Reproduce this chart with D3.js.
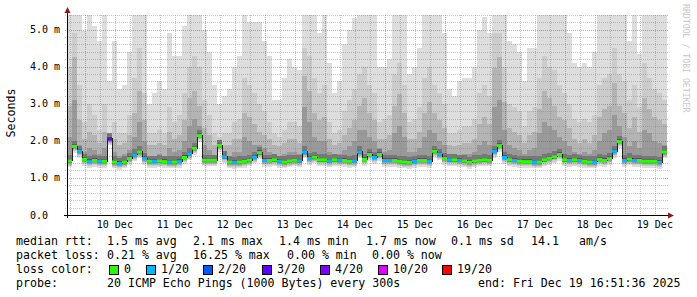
<!DOCTYPE html>
<html>
<head>
<meta charset="utf-8">
<script src="https://cdn.jsdelivr.net/npm/d3@7"></script>
<style>
  body { margin: 0; background: #fff; }
  text { font-family: "DejaVu Sans Mono", monospace; fill: #000; white-space: pre; }
</style>
</head>
<body>
<script>
/********************** data **********************/
// one value per 2h step, Dec 9 16:51 -> Dec 19 16:51
const dayLabels = ["10 Dec","11 Dec","12 Dec","13 Dec","14 Dec","15 Dec","16 Dec","17 Dec","18 Dec","19 Dec"];
const yTickValues = [0, 1, 2, 3, 4, 5];
const yTickLabels = ["0.0", "1.0 m", "2.0 m", "3.0 m", "4.0 m", "5.0 m"];

// median rtt (ms)
const median = [
  1.46,1.85,1.72,1.50,1.44,1.47,1.45,1.45,2.05,1.43,
  1.39,1.43,1.52,1.62,1.70,1.52,1.45,1.45,1.46,1.44,
  1.43,1.43,1.44,1.55,1.65,1.80,2.14,1.48,1.48,1.48,
  1.88,1.57,1.43,1.42,1.43,1.45,1.48,1.56,1.68,1.47,
  1.47,1.49,1.45,1.43,1.46,1.48,1.46,1.70,1.52,1.56,
  1.49,1.49,1.46,1.49,1.48,1.47,1.45,1.46,1.70,1.50,
  1.63,1.55,1.63,1.47,1.47,1.47,1.45,1.43,1.42,1.45,
  1.47,1.47,1.45,1.72,1.64,1.52,1.49,1.49,1.47,1.46,
  1.42,1.46,1.48,1.49,1.48,1.72,1.87,1.55,1.49,1.47,
  1.45,1.44,1.44,1.43,1.43,1.49,1.53,1.57,1.63,1.49,
  1.47,1.49,1.47,1.45,1.43,1.43,1.50,1.47,1.52,1.72,
  1.98,1.47,1.51,1.47,1.47,1.45,1.45,1.45,1.42,1.70
];
// lost pings out of 20
const lost = [
  0,0,1,0,1,0,1,0,3,0, 1,0,0,1,0,1,0,1,0,0, 1,0,1,0,1,0,0,0,0,0,
  0,1,0,1,0,0,0,1,0,1, 0,0,1,0,0,0,1,1,1,0, 0,0,1,0,1,0,0,1,1,0,
  0,1,0,1,1,0,0,0,0,1, 0,0,1,0,1,0,1,0,1,0, 0,0,0,0,0,1,0,1,0,1,
  0,0,0,1,0,0,0,0,0,0, 1,0,1,0,0,1,0,0,0,1, 0,1,0,1,0,0,0,0,1,0
];
// smoke: highest ping, and upper pings 18, 16, 14 (ms)
const pingMax = [
  5.4,5.4,5.4,4.95,5.4,5.1,4.7,5.4,3.6,4.7,
  3.4,3.5,4.4,5.4,5.4,5.4,3.0,3.3,3.6,3.4,
  4.9,4.3,4.3,5.1,5.4,5.4,5.4,5.0,4.4,3.5,
  3.0,3.2,3.4,4.0,4.3,5.4,5.2,5.2,5.2,4.7,
  4.3,3.1,3.1,3.7,4.2,4.0,3.9,5.4,5.4,5.4,
  4.9,5.4,4.1,3.3,3.6,4.6,5.0,5.3,5.4,5.4,
  5.4,5.4,4.0,4.0,4.2,5.4,5.4,5.4,3.8,4.0,
  4.5,5.4,5.4,5.4,5.4,4.9,3.4,3.2,3.6,3.7,
  3.7,4.0,5.0,5.35,4.9,5.4,5.4,5.4,4.7,4.6,
  4.4,3.6,4.5,4.5,5.4,5.4,5.4,5.4,5.4,5.4,
  4.9,4.1,4.0,4.1,4.0,4.4,5.4,5.4,5.4,5.4,
  5.4,5.4,4.7,5.4,4.35,5.4,5.4,5.4,5.4,5.4
];
const ping18 = [
  4.0,4.9,3.5,2.5,3.0,2.7,2.3,3.0,2.2,2.5,
  2.2,2.2,2.7,3.7,4.5,3.3,2.2,2.2,2.3,2.2,
  2.9,2.5,2.7,3.3,4.0,4.3,4.0,3.1,2.7,2.2,
  2.1,2.2,2.2,2.5,2.6,3.7,3.5,3.3,3.0,2.8,
  2.5,2.2,2.1,2.3,2.5,2.5,2.4,4.5,4.3,3.7,
  3.3,3.5,2.5,2.2,2.3,2.8,3.1,3.4,3.8,4.0,
  3.5,3.3,2.5,2.6,2.7,3.8,4.1,3.5,2.5,2.6,
  2.9,3.7,4.0,3.5,3.3,3.0,2.2,2.2,2.3,2.4,
  2.4,2.6,3.3,3.5,3.2,4.9,4.9,4.0,3.0,2.9,
  2.8,2.4,2.8,2.9,3.7,4.3,4.0,3.9,3.5,3.3,
  3.0,2.6,2.5,2.6,2.5,2.7,3.5,3.7,3.8,4.5,
  3.8,3.6,3.1,3.5,2.9,4.1,3.7,3.4,3.3,3.1
];
const ping16 = [
  2.95,4.25,2.55,2.05,2.25,2.15,1.95,2.25,1.95,2.05,
  1.9,1.95,2.15,2.75,3.35,2.55,1.9,1.9,1.95,1.9,
  2.25,2.05,2.15,2.55,3.15,3.35,2.95,2.35,2.15,1.9,
  1.85,1.9,1.9,2.05,2.05,2.75,2.65,2.45,2.25,2.15,
  2.05,1.9,1.85,1.95,2.05,2.05,1.95,3.75,3.35,2.75,
  2.55,2.65,2.05,1.9,1.95,2.15,2.35,2.55,2.95,3.15,
  2.75,2.55,2.05,2.05,2.15,2.95,3.25,2.75,2.05,2.05,
  2.25,2.75,3.05,2.75,2.55,2.35,1.9,1.85,1.9,1.95,
  1.95,2.05,2.45,2.65,2.45,3.95,4.25,3.05,2.35,2.25,
  2.15,1.95,2.15,2.25,2.85,3.35,3.15,2.95,2.65,2.55,
  2.35,2.05,1.95,2.05,1.95,2.15,2.65,2.85,2.95,3.55,
  2.95,2.75,2.35,2.65,2.25,3.15,2.85,2.65,2.55,2.45
];
const ping14 = [
  2.1,3.1,1.9,1.7,1.8,1.75,1.65,1.8,2.0,1.7,
  1.6,1.65,1.75,2.1,2.5,2.0,1.6,1.6,1.65,1.6,
  1.8,1.7,1.75,2.0,2.4,2.6,2.4,1.9,1.75,1.6,
  1.8,1.65,1.6,1.7,1.7,2.1,2.0,1.9,1.9,1.8,
  1.7,1.6,1.55,1.65,1.7,1.7,1.65,2.9,2.5,2.1,
  2.0,2.0,1.7,1.6,1.65,1.75,1.85,2.0,2.3,2.3,
  2.1,2.0,1.8,1.7,1.75,2.2,2.4,2.1,1.7,1.7,
  1.8,2.1,2.3,2.2,2.0,1.9,1.6,1.55,1.6,1.65,
  1.65,1.7,1.9,2.0,1.9,2.9,3.1,2.3,1.9,1.8,
  1.75,1.65,1.75,1.8,2.2,2.5,2.4,2.3,2.1,2.0,
  1.85,1.7,1.65,1.7,1.65,1.75,2.0,2.2,2.3,2.7,
  2.4,2.1,1.85,2.0,1.8,2.3,2.2,2.0,1.95,1.9
];
// how far the lower pings sit under the median, outer band first (ms)
const lowerDrop = [0.17, 0.13, 0.10, 0.07, 0.05, 0.03];
// inner pings just above the median (ms)
const innerRise = [0.15, 0.06];

const lossSteps = [0, 1, 2, 3, 4, 10, 19];
const lossLabels = ["0", "1/20", "2/20", "3/20", "4/20", "10/20", "19/20"];
const lossColors = ["#26ff00", "#00b8ff", "#0059ff", "#5e00ff", "#7e00ff", "#dd00ff", "#ff0000"];
const smokeShades = ["#dddddd", "#cccccc", "#b4b4b4", "#999999", "#777777", "#555555"];

/********************** layout **********************/
const W = 697, H = 297;
const plot = { left: 67, right: 667, top: 14.7, bottom: 215 };
const STEP_MS = 2 * 3600 * 1000;
const tStart = Date.UTC(2025, 11, 9, 16, 51, 36);
const tEnd = Date.UTC(2025, 11, 19, 16, 51, 36);

const x = d3.scaleUtc().domain([tStart, tEnd]).range([plot.left, plot.right]);
const y = d3.scaleLinear().domain([0, 5.4]).range([plot.bottom, plot.top]);

const svg = d3.select("body").append("svg")
  .attr("width", W).attr("height", H)
  .attr("viewBox", [0, 0, W, H]);

svg.append("rect").attr("width", W).attr("height", H).attr("fill", "#fff");

const cols = median.map((m, i) => ({
  i, m,
  t0: tStart + i * STEP_MS,
  t1: tStart + (i + 1) * STEP_MS,
  lost: lost[i]
}));

/********************** smoke **********************/
const smoke = svg.append("g").attr("shape-rendering", "crispEdges");
const bandTops = [
  d => pingMax[d.i],
  d => ping18[d.i],
  d => ping16[d.i],
  d => ping14[d.i],
  d => d.m + innerRise[0],
  d => d.m + innerRise[1]
];
smokeShades.forEach((shade, b) => {
  const top = d => y(Math.min(5.4, Math.max(d.m, bandTops[b](d))));
  smoke.selectAll(null)
    .data(cols)
    .join("rect")
    .attr("x", d => x(d.t0))
    .attr("width", d => x(d.t1) - x(d.t0))
    .attr("y", top)
    .attr("height", d => y(d.m - lowerDrop[b]) - top(d))
    .attr("fill", shade);
});

/********************** grid **********************/
const grid = svg.append("g").attr("shape-rendering", "crispEdges");
const minorY = d3.range(0, 5.41, 0.2).filter(v => Math.abs(v - Math.round(v)) > 0.01);
grid.selectAll(null).data(minorY).join("line")
  .attr("x1", plot.left - 2).attr("x2", plot.right + 2)
  .attr("y1", d => Math.round(y(d)) + 0.5).attr("y2", d => Math.round(y(d)) + 0.5)
  .attr("stroke", "rgba(128,128,128,0.45)").attr("stroke-dasharray", "1,1");
grid.selectAll(null).data(yTickValues.slice(1)).join("line")
  .attr("x1", plot.left - 2).attr("x2", plot.right + 2)
  .attr("y1", d => Math.round(y(d)) + 0.5).attr("y2", d => Math.round(y(d)) + 0.5)
  .attr("stroke", "rgba(200,60,60,0.5)").attr("stroke-dasharray", "1,1");

const sixHours = d3.utcHour.every(6).range(new Date(tStart), new Date(tEnd))
  .filter(d => d.getUTCHours() !== 0);
grid.selectAll(null).data(sixHours).join("line")
  .attr("x1", d => Math.round(x(d)) + 0.5).attr("x2", d => Math.round(x(d)) + 0.5)
  .attr("y1", plot.top).attr("y2", plot.bottom + 2)
  .attr("stroke", "rgba(128,128,128,0.45)").attr("stroke-dasharray", "1,1");
const midnights = d3.utcDay.range(new Date(tStart), new Date(tEnd));
grid.selectAll(null).data(midnights).join("line")
  .attr("x1", d => Math.round(x(d)) + 0.5).attr("x2", d => Math.round(x(d)) + 0.5)
  .attr("y1", plot.top).attr("y2", plot.bottom + 2)
  .attr("stroke", "rgba(200,60,60,0.5)").attr("stroke-dasharray", "1,1");

/********************** median **********************/
const stepLine = d3.line()
  .x(d => x(d.t))
  .y(d => y(d.v))
  .curve(d3.curveStepAfter);
svg.append("path")
  .datum(cols.map(d => ({ t: d.t0, v: d.m })).concat([{ t: cols[cols.length - 1].t1, v: median[median.length - 1] }]))
  .attr("d", stepLine)
  .attr("fill", "none")
  .attr("stroke", "#202020")
  .attr("stroke-width", 1)
  .attr("shape-rendering", "crispEdges");

svg.append("g").selectAll("line")
  .data(cols)
  .join("line")
  .attr("x1", d => x(d.t0)).attr("x2", d => x(d.t1))
  .attr("y1", d => y(d.m)).attr("y2", d => y(d.m))
  .attr("stroke", d => lossColors[lossSteps.indexOf(d.lost)])
  .attr("stroke-width", 3);

/********************** axes **********************/
const axisColor = "#000";
const arrowColor = "#8b1a1a";
svg.append("line")
  .attr("x1", plot.left + 0.5).attr("x2", plot.left + 0.5)
  .attr("y1", plot.bottom + 3).attr("y2", 11)
  .attr("stroke", axisColor);
svg.append("line")
  .attr("x1", plot.left - 3).attr("x2", plot.right + 2)
  .attr("y1", plot.bottom + 0.5).attr("y2", plot.bottom + 0.5)
  .attr("stroke", axisColor);
svg.append("path")
  .attr("d", `M${plot.left + 0.5},7 L${plot.left - 2.5},13 L${plot.left + 3.5},13 Z`)
  .attr("fill", arrowColor);
svg.append("path")
  .attr("d", `M${plot.right + 7},${plot.bottom + 0.5} L${plot.right + 1},${plot.bottom - 2.5} L${plot.right + 1},${plot.bottom + 3.5} Z`)
  .attr("fill", arrowColor);

svg.append("g").selectAll("text")
  .data(yTickValues)
  .join("text")
  .attr("x", 30)
  .attr("y", d => y(d) + 3.5)
  .attr("font-size", "10px")
  .text((d, i) => yTickLabels[i]);

svg.append("g").selectAll("text")
  .data(dayLabels)
  .join("text")
  .attr("x", (d, i) => x(d3.utcHour.offset(midnights[i], 12)))
  .attr("y", 228)
  .attr("text-anchor", "middle")
  .attr("font-size", "10px")
  .text(d => d);

svg.append("text")
  .attr("transform", "translate(15,113) rotate(-90)")
  .attr("text-anchor", "middle")
  .attr("font-size", "11.6px")
  .text("Seconds");

svg.append("text")
  .attr("transform", "translate(683,4) rotate(90)")
  .attr("font-size", "8.2px")
  .style("fill", "#c8c8c8")
  .text("RRDTOOL / TOBI OETIKER");

/********************** legend **********************/
const legendRows = [
  { y: 245, items: [[16, "median rtt:"], [107, "1.5 ms avg"], [193, "2.1 ms max"], [279, "1.4 ms min"], [366, "1.7 ms now"], [451, "0.1 ms sd"], [531, "14.1"], [579, "am/s"]] },
  { y: 259, items: [[16, "packet loss:"], [107, "0.21 % avg"], [193, "16.25 % max"], [287, "0.00 % min"], [372, "0.00 % now"]] },
  { y: 273, items: [[16, "loss color:"]] },
  { y: 287, items: [[16, "probe:"], [107, "20 ICMP Echo Pings (1000 Bytes) every 300s"], [478, "end: Fri Dec 19 16:51:36 2025"]] }
];
const legend = svg.append("g").attr("font-size", "11.6px");
legendRows.forEach(row => {
  legend.selectAll(null).data(row.items).join("text")
    .attr("x", d => d[0]).attr("y", row.y)
    .text(d => d[1]);
});

const swatchX = [109, 146, 203, 262, 320, 378, 442];
const sw = legend.selectAll("g.sw").data(lossLabels).join("g").attr("class", "sw");
sw.append("rect")
  .attr("x", (d, i) => swatchX[i] + 0.5).attr("y", 265.5)
  .attr("width", 9).attr("height", 9)
  .attr("fill", (d, i) => lossColors[i])
  .attr("stroke", "#000");
sw.append("text")
  .attr("x", (d, i) => swatchX[i] + 15).attr("y", 273)
  .text(d => d);
</script>
</body>
</html>
